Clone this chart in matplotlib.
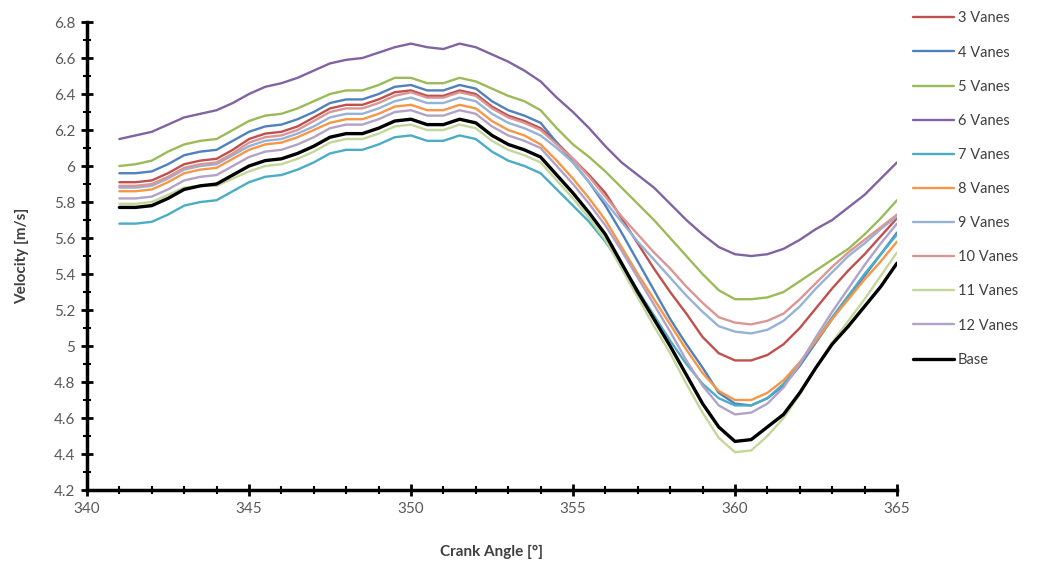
import numpy as np
import matplotlib
matplotlib.use("Agg")
import matplotlib.pyplot as plt
from matplotlib.ticker import MultipleLocator, FuncFormatter

# Crank angle grid (deg) and velocities
angle = np.arange(341, 365.01, 0.5)

v3 = [5.91, 5.91, 5.92, 5.96, 6.01, 6.03, 6.04, 6.09, 6.15, 6.18, 6.19, 6.22, 6.27, 6.32, 6.34, 6.34, 6.37, 6.41,
      6.42, 6.39, 6.39, 6.42, 6.40, 6.33, 6.28, 6.25,
      6.21, 6.13, 6.04, 5.95, 5.85, 5.71, 5.57, 5.43, 5.30, 5.18, 5.05, 4.96, 4.92, 4.92, 4.95, 5.01, 5.10, 5.21,
      5.32, 5.42, 5.51, 5.61, 5.71]
v4 = [5.96, 5.96, 5.97, 6.01, 6.06, 6.08, 6.09, 6.14, 6.19, 6.22, 6.23, 6.26, 6.30, 6.35, 6.37, 6.37, 6.40, 6.44,
      6.45, 6.42, 6.42, 6.45, 6.43, 6.36, 6.31, 6.28,
      6.24, 6.13, 6.02, 5.91, 5.78, 5.63, 5.47, 5.31, 5.15, 5.01, 4.88, 4.74, 4.68, 4.67, 4.71, 4.78, 4.89, 5.02,
      5.15, 5.27, 5.39, 5.51, 5.63]
v5 = [6.00, 6.01, 6.03, 6.08, 6.12, 6.14, 6.15, 6.20, 6.25, 6.28, 6.29, 6.32, 6.36, 6.40, 6.42, 6.42, 6.45, 6.49,
      6.49, 6.46, 6.46, 6.49, 6.47, 6.43, 6.39, 6.36,
      6.31, 6.21, 6.12, 6.05, 5.97, 5.88, 5.79, 5.70, 5.60, 5.50, 5.40, 5.31, 5.26, 5.26, 5.27, 5.30, 5.36, 5.42,
      5.48, 5.54, 5.62, 5.71, 5.81]
v6 = [6.15, 6.17, 6.19, 6.23, 6.27, 6.29, 6.31, 6.35, 6.40, 6.44, 6.46, 6.49, 6.53, 6.57, 6.59, 6.60, 6.63, 6.66,
      6.68, 6.66, 6.65, 6.68, 6.66, 6.62, 6.58, 6.53,
      6.47, 6.38, 6.30, 6.21, 6.11, 6.02, 5.95, 5.88, 5.79, 5.70, 5.62, 5.55, 5.51, 5.50, 5.51, 5.54, 5.59, 5.65,
      5.70, 5.77, 5.84, 5.93, 6.02]
v7 = [5.68, 5.68, 5.69, 5.73, 5.78, 5.80, 5.81, 5.86, 5.91, 5.94, 5.95, 5.98, 6.02, 6.07, 6.09, 6.09, 6.12, 6.16,
      6.17, 6.14, 6.14, 6.17, 6.15, 6.08, 6.03, 6.00,
      5.96, 5.87, 5.78, 5.69, 5.58, 5.45, 5.31, 5.17, 5.03, 4.90, 4.79, 4.71, 4.67, 4.67, 4.71, 4.79, 4.90, 5.03,
      5.16, 5.28, 5.40, 5.51, 5.62]
v8 = [5.86, 5.86, 5.87, 5.91, 5.96, 5.98, 5.99, 6.04, 6.09, 6.12, 6.13, 6.16, 6.20, 6.24, 6.26, 6.26, 6.29, 6.33,
      6.34, 6.31, 6.31, 6.34, 6.32, 6.25, 6.20, 6.17,
      6.12, 6.03, 5.93, 5.82, 5.70, 5.55, 5.40, 5.26, 5.12, 4.98, 4.85, 4.75, 4.70, 4.70, 4.74, 4.81, 4.91, 5.03,
      5.15, 5.26, 5.37, 5.47, 5.58]
v9 = [5.88, 5.88, 5.89, 5.93, 5.98, 6.00, 6.01, 6.06, 6.11, 6.14, 6.15, 6.18, 6.22, 6.27, 6.29, 6.29, 6.32, 6.36,
      6.38, 6.35, 6.35, 6.38, 6.36, 6.29, 6.24, 6.21,
      6.17, 6.10, 6.02, 5.91, 5.80, 5.69, 5.58, 5.48, 5.38, 5.28, 5.19, 5.11, 5.08, 5.07, 5.09, 5.14, 5.22, 5.32,
      5.41, 5.50, 5.57, 5.65, 5.72]
v10 = [5.89, 5.89, 5.90, 5.94, 5.99, 6.01, 6.02, 6.07, 6.13, 6.16, 6.17, 6.20, 6.25, 6.30, 6.32, 6.32, 6.35, 6.39,
       6.41, 6.38, 6.38, 6.41, 6.39, 6.32, 6.27, 6.24,
       6.20, 6.12, 6.04, 5.94, 5.83, 5.72, 5.62, 5.52, 5.43, 5.33, 5.24, 5.16, 5.13, 5.12, 5.14, 5.18, 5.26, 5.35,
       5.44, 5.52, 5.59, 5.66, 5.73]
v11 = [5.79, 5.79, 5.80, 5.84, 5.88, 5.89, 5.89, 5.93, 5.97, 6.00, 6.01, 6.04, 6.08, 6.13, 6.15, 6.15, 6.18, 6.22,
       6.23, 6.20, 6.20, 6.23, 6.21, 6.14, 6.09, 6.06,
       6.02, 5.92, 5.82, 5.71, 5.59, 5.43, 5.27, 5.11, 4.96, 4.79, 4.63, 4.49, 4.41, 4.42, 4.50, 4.60, 4.73, 4.88,
       5.02, 5.14, 5.26, 5.39, 5.52]
v12 = [5.82, 5.82, 5.83, 5.87, 5.92, 5.94, 5.95, 6.00, 6.05, 6.08, 6.09, 6.12, 6.16, 6.21, 6.23, 6.23, 6.26, 6.30,
       6.31, 6.28, 6.28, 6.31, 6.29, 6.22, 6.17, 6.14,
       6.10, 6.00, 5.90, 5.79, 5.67, 5.53, 5.38, 5.23, 5.08, 4.92, 4.78, 4.67, 4.62, 4.63, 4.68, 4.77, 4.90, 5.05,
       5.19, 5.32, 5.45, 5.57, 5.68]
base = [5.77, 5.77, 5.78, 5.82, 5.87, 5.89, 5.90, 5.95, 6.00, 6.03, 6.04, 6.07, 6.11, 6.16, 6.18, 6.18, 6.21, 6.25,
        6.26, 6.23, 6.23, 6.26, 6.24, 6.17, 6.12, 6.09,
        6.05, 5.95, 5.85, 5.74, 5.62, 5.46, 5.30, 5.15, 5.00, 4.84, 4.68, 4.55, 4.47, 4.48, 4.55, 4.62, 4.74, 4.88,
        5.01, 5.11, 5.22, 5.33, 5.46]

labels = ['3 Vanes', '4 Vanes', '5 Vanes', '6 Vanes', '7 Vanes', '8 Vanes',
          '9 Vanes', '10 Vanes', '11 Vanes', '12 Vanes', 'Base']
series = [v3, v4, v5, v6, v7, v8, v9, v10, v11, v12, base]
colors = ['#C0504D', '#4F81BD', '#9BBB59', '#8064A2', '#4BACC6', '#F79646',
          '#95B3D7', '#DA9694', '#C4D79B', '#B3A2C7', '#000000']

plt.rcParams['font.family'] = ['Lato', 'DejaVu Sans']

fig = plt.figure(figsize=(10.39, 5.69), dpi=100)
ax = fig.add_axes([0.0837, 0.1388, 0.7796, 0.8225])

for vals, lab, col in zip(series, labels, colors):
    lw = 2.4 if lab == 'Base' else 1.7
    ax.plot(angle, vals, color=col, linewidth=lw, label=lab,
            solid_capstyle='round', solid_joinstyle='round')

ax.set_xlim(340, 365)
ax.set_ylim(4.2, 6.8)
ax.xaxis.set_major_locator(MultipleLocator(5))
ax.xaxis.set_minor_locator(MultipleLocator(1))
ax.yaxis.set_major_locator(MultipleLocator(0.2))
ax.yaxis.set_minor_locator(MultipleLocator(0.1))
ax.yaxis.set_major_formatter(FuncFormatter(lambda v, p: f'{v:g}'))

for side in ['top', 'right']:
    ax.spines[side].set_visible(False)
for side in ['left', 'bottom']:
    ax.spines[side].set_linewidth(2.5)
    ax.spines[side].set_color('black')

ax.tick_params(which='major', direction='inout', length=9, width=2, colors='black',
               labelcolor='#595959', labelsize=11, pad=4)
ax.tick_params(which='minor', direction='inout', length=6, width=1.5, colors='black')

ax.set_xlabel('Crank Angle [°]', fontsize=11, fontweight='bold', color='#404040', labelpad=21)
ax.set_ylabel('Velocity [m/s]', fontsize=11, fontweight='bold', color='#404040', labelpad=18)

fig.legend(loc='upper left', bbox_to_anchor=(0.866, 1.003), frameon=False,
           fontsize=10.5, labelspacing=1.38, handlelength=2.8, handletextpad=0.3,
           labelcolor='#404040')

fig.savefig('out.png', dpi=100)
